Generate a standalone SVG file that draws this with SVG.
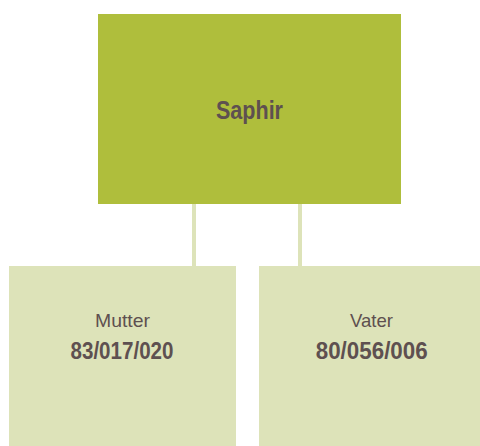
<svg xmlns="http://www.w3.org/2000/svg" width="480" height="446" viewBox="0 0 480 446">
<style>
.t{font-family:"Liberation Sans",Arial,sans-serif;fill:#5e5050;text-anchor:middle}
.b{font-weight:bold}
.conn{stroke:#dde3b9;stroke-width:4;fill:none}
.child{fill:#dde3b9}
</style>
<rect width="480" height="446" fill="#ffffff"/>
<g id="connectors">
<line class="conn" x1="194" y1="204" x2="194" y2="266"/>
<line class="conn" x1="300" y1="204" x2="300" y2="266"/>
</g>
<g id="saphir">
<rect x="98" y="14" width="303" height="190" fill="#afbe3c"/>
<text class="t b" x="249.5" y="119" font-size="25" textLength="67" lengthAdjust="spacingAndGlyphs">Saphir</text>
</g>
<g id="mutter">
<rect class="child" x="9" y="266" width="227" height="180"/>
<text class="t" x="122.5" y="327" font-size="19" textLength="55" lengthAdjust="spacingAndGlyphs">Mutter</text>
<text class="t b" x="122" y="359" font-size="23" textLength="103" lengthAdjust="spacingAndGlyphs">83/017/020</text>
</g>
<g id="vater">
<rect class="child" x="259" y="266" width="225" height="180"/>
<text class="t" x="371.5" y="327" font-size="19" textLength="43" lengthAdjust="spacingAndGlyphs">Vater</text>
<text class="t b" x="371.7" y="359" font-size="23" textLength="112" lengthAdjust="spacingAndGlyphs">80/056/006</text>
</g>
</svg>
